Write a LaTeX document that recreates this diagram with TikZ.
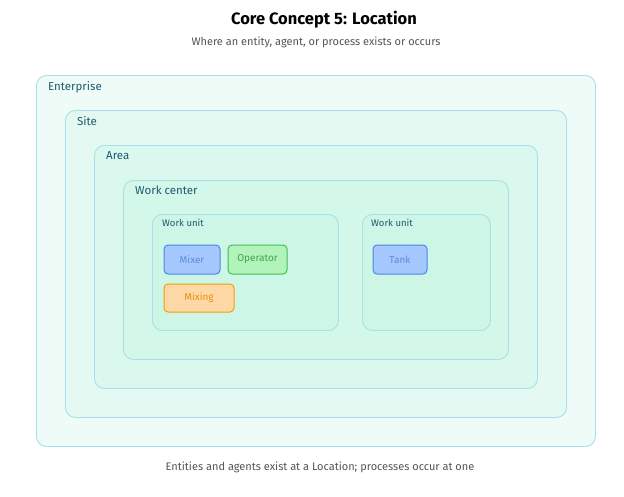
\documentclass[tikz,border=0pt]{standalone}
\usepackage{fontspec}
\setmainfont{Fira Sans}
\usetikzlibrary{positioning}
\definecolor{zoneline}{HTML}{A8E0EA}
\definecolor{zonetext}{HTML}{1F5A70}
\definecolor{fillA}{HTML}{EEFBF7}
\definecolor{fillB}{HTML}{E4F9F1}
\definecolor{fillC}{HTML}{DAF8ED}
\definecolor{fillD}{HTML}{D3F7E9}
\definecolor{fillE}{HTML}{CEF6E6}
\definecolor{eqfill}{HTML}{A5C8FF}
\definecolor{eqline}{HTML}{4A86E8}
\definecolor{eqtext}{HTML}{5A8DD8}
\definecolor{agfill}{HTML}{B2F2BB}
\definecolor{agline}{HTML}{40C057}
\definecolor{agtext}{HTML}{3FA653}
\definecolor{prfill}{HTML}{FFD8A8}
\definecolor{prline}{HTML}{F59F00}
\definecolor{prtext}{HTML}{E8900C}
\definecolor{note}{HTML}{555555}
\tikzset{zone/.style={draw=zoneline,line width=0.9pt,rounded corners=10pt,anchor=north west,inner sep=0pt}}
\tikzset{zonelabel/.style={anchor=north west,text=zonetext,font=\fontsize{11.5}{11.5}\selectfont,inner sep=0pt}}
\tikzset{unitlabel/.style={anchor=north west,text=zonetext,font=\fontsize{9.5}{9.5}\selectfont,inner sep=0pt}}
\tikzset{item/.style={rounded corners=4pt,line width=1pt,minimum height=29pt,inner sep=0pt,font=\fontsize{10}{10}\selectfont}}
\tikzset{equip/.style={item,draw=eqline,fill=eqfill,text=eqtext}}
\tikzset{agent/.style={item,draw=agline,fill=agfill,text=agtext}}
\tikzset{proc/.style={item,draw=prline,fill=prfill,text=prtext}}
\begin{document}
\begin{tikzpicture}[x=1pt,y=-1pt]
  \useasboundingbox[fill=white] (0,0) rectangle (624,496);
  % titles
  \node (title) at (324,20) {\fontsize{16.5}{16.5}\selectfont\bfseries Core Concept 5: Location};
  \node[text=note,font=\fontsize{11}{11}\selectfont] (sub) at (316,42) {Where an entity, agent, or process exists or occurs};
  % nested locations
  \node[zone,fill=fillA,minimum width=559pt,minimum height=371pt] (ent) at (36,75) {};
  \node[zonelabel] (entL) at (48,81) {Enterprise};
  \node[zone,fill=fillB,minimum width=501pt,minimum height=307pt] (site) at (65,110) {};
  \node[zonelabel] (siteL) at (77,116) {Site};
  \node[zone,fill=fillC,minimum width=443pt,minimum height=243pt] (area) at (94,145) {};
  \node[zonelabel] (areaL) at (106,151) {Area};
  \node[zone,fill=fillD,minimum width=385pt,minimum height=179pt] (wc) at (123,180) {};
  \node[zonelabel] (wcL) at (135,186) {Work center};
  \node[zone,fill=fillE,minimum width=186pt,minimum height=116pt] (wuA) at (152,214) {};
  \node[unitlabel] (wuAL) at (162,219) {Work unit};
  \node[zone,fill=fillE,minimum width=128pt,minimum height=116pt] (wuB) at (362,214) {};
  \node[unitlabel] (wuBL) at (371,219) {Work unit};
  % members
  \node[equip,minimum width=56pt] (mixer) at (192,259.5) {Mixer};
  \node[agent,minimum width=59pt] (oper) at (257.5,259.5) {Operator};
  \node[proc,minimum width=70pt,minimum height=28pt] (mixing) at (199,298) {Mixing};
  \node[equip,minimum width=54pt] (tank) at (400,259.5) {Tank};
  % footer
  \node[text=note,font=\fontsize{11}{11}\selectfont] (foot) at (320,467) {Entities and agents exist at a Location; processes occur at one};
\end{tikzpicture}
\end{document}
